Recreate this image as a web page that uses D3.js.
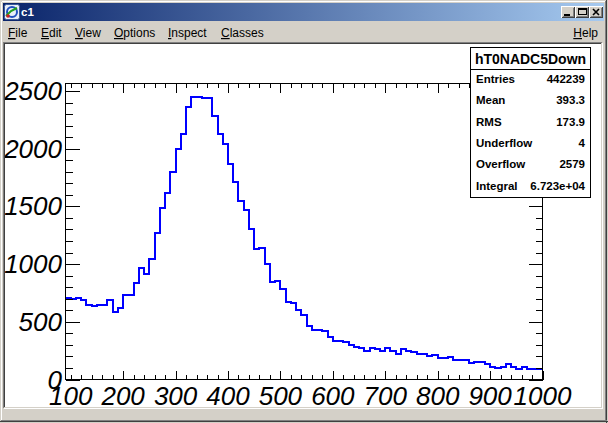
<!DOCTYPE html>
<html><head><meta charset="utf-8">
<script src="https://cdn.jsdelivr.net/npm/d3@7"></script>
<style>
html,body{margin:0;padding:0;overflow:hidden;background:#d4d0c8}
svg{display:block}
</style>
</head><body>
<svg id="c" width="608" height="423"></svg>
<script>
// ---------------- data ----------------
const binLowEdges = [90,100,110,120,130,140,150,160,170,180,190,200,210,220,230,240,250,260,270,280,290,
  300,310,320,330,340,350,360,370,380,390,400,410,420,430,440,450,460,470,480,490,
  500,510,520,530,540,550,560,570,580,590,600,610,620,630,640,650,660,670,680,690,
  700,710,720,730,740,750,760,770,780,790,800,810,820,830,840,850,860,870,880,890,
  900,910,920,930,940,950,960,970,980,990];
const binCounts = [705,696,705,688,644,633,644,644,688,584,616,731,731,835,965,910,1043,1268,1485,1615,1797,
  1994,2130,2361,2448,2448,2439,2439,2283,2130,2043,1867,1711,1549,1468,1303,1127,1138,1003,844,855,
  780,673,665,601,559,461,433,425,416,364,335,335,327,303,280,269,249,269,260,251,
  277,245,223,260,245,237,220,220,202,211,185,185,194,165,165,173,141,150,150,133,
  107,98,107,130,107,89,104,89,89,89];
const xUpperEdge = 1000;
const xTickLabels = [100,200,300,400,500,600,700,800,900,1000];
const xMajorTicks = [200,300,400,500,600,700,800,900,1000];
const xMinorTicks = [100,120,140,160,180,220,240,260,280,320,340,360,380,420,440,460,480,
  520,540,560,580,620,640,660,680,720,740,760,780,820,840,860,880,920,940,960,980];
const yTickLabels = [0,500,1000,1500,2000,2500];
const yMinorTicks = [100,200,300,400,600,700,800,900,1100,1200,1300,1400,1600,1700,1800,1900,
  2100,2200,2300,2400];
const xDomain = [90, 1000];
const yDomain = [0, 2565];
const statsTitle = "hT0NADC5Down";
const statNames = ["Entries","Mean","RMS","Underflow","Overflow","Integral"];
const statValues = ["442239","393.3","173.9","4","2579","6.723e+04"];
const menuItems = ["File","Edit","View","Options","Inspect","Classes"];
const helpItem = "Help";
const windowTitle = "c1";

// ---------------- layout ----------------
const W = 608, H = 423;
const canvasBox = {x:5, y:44, w:596, h:363};
const frame = {l:65.5, r:542.5, t:83.5, b:379.5};
const menuX = [8, 41, 75, 114, 168, 221];
const FONT = "'Liberation Sans', Arial, Helvetica, sans-serif";

const svg = d3.select("#c");

// window chrome
svg.append("rect").attr("x",0).attr("y",0).attr("width",W).attr("height",H).attr("fill","#d4d0c8");
const chrome = svg.append("g").attr("shape-rendering","crispEdges");
chrome.append("line").attr("x1",1.5).attr("y1",1.5).attr("x2",W-2).attr("y2",1.5).attr("stroke","#ffffff");
chrome.append("line").attr("x1",1.5).attr("y1",1.5).attr("x2",1.5).attr("y2",H-2).attr("stroke","#ffffff");
chrome.append("line").attr("x1",W-1.5).attr("y1",0).attr("x2",W-1.5).attr("y2",H).attr("stroke","#404040");
chrome.append("line").attr("x1",W-2.5).attr("y1",1).attr("x2",W-2.5).attr("y2",H-1).attr("stroke","#808080");
chrome.append("line").attr("x1",0).attr("y1",H-1.5).attr("x2",W).attr("y2",H-1.5).attr("stroke","#404040");
chrome.append("line").attr("x1",1).attr("y1",H-2.5).attr("x2",W-1).attr("y2",H-2.5).attr("stroke","#808080");

// title bar gradient
const defs = svg.append("defs");
const grad = defs.append("linearGradient").attr("id","tb").attr("x1","0").attr("x2","1").attr("y1","0").attr("y2","0");
grad.append("stop").attr("offset","0").attr("stop-color","#0a246a");
grad.append("stop").attr("offset","1").attr("stop-color","#a6caf0");
svg.append("rect").attr("x",3).attr("y",3).attr("width",601).attr("height",18).attr("fill","url(#tb)");

// icon
const icon = svg.append("g").attr("transform","translate(4,4)");
icon.append("rect").attr("x",0.5).attr("y",0.5).attr("width",15).attr("height",15).attr("rx",2)
  .attr("fill","#e8eef8").attr("stroke","#3a5a9a");
icon.append("circle").attr("cx",8).attr("cy",8).attr("r",5).attr("fill","none").attr("stroke","#2050c0").attr("stroke-width",2);
icon.append("path").attr("d","M2,12 L7,7 L13,4").attr("fill","none").attr("stroke","#20a020").attr("stroke-width",2);
icon.append("circle").attr("cx",4).attr("cy",12).attr("r",1.8).attr("fill","#d02020");

svg.append("text").attr("x",21).attr("y",16).attr("fill","#fff").attr("font-family",FONT)
  .attr("font-weight","bold").attr("font-size","11.5px").text(windowTitle);

// title buttons
const btnX = [561, 575, 589];
btnX.forEach((bx,i)=>{
  const g = svg.append("g").attr("transform",`translate(${bx},6)`).attr("shape-rendering","crispEdges");
  const w = 14, h = 12;
  g.append("rect").attr("x",0).attr("y",0).attr("width",w).attr("height",h).attr("fill","#d4d0c8");
  g.append("path").attr("d",`M0.5,${h-0.5}V0.5H${w-0.5}`).attr("fill","none").attr("stroke","#ffffff");
  g.append("path").attr("d",`M0.5,${h-0.5}H${w-0.5}V0.5`).attr("fill","none").attr("stroke","#404040");
  g.append("path").attr("d",`M1.5,${h-1.5}H${w-1.5}V1.5`).attr("fill","none").attr("stroke","#808080");
  if(i===0){ g.append("rect").attr("x",3).attr("y",8).attr("width",6).attr("height",2).attr("fill","#000"); }
  if(i===1){ g.append("rect").attr("x",3.5).attr("y",2.5).attr("width",8).attr("height",6).attr("fill","none").attr("stroke","#000");
             g.append("line").attr("x1",3).attr("y1",3.5).attr("x2",12).attr("y2",3.5).attr("stroke","#000"); }
  if(i===2){ g.append("path").attr("d","M4,3L10,9M10,3L4,9").attr("stroke","#000").attr("stroke-width",1.6).attr("shape-rendering","auto"); }
});

// menu bar
const menu = svg.append("g").attr("font-family",FONT).attr("font-size","12px").attr("fill","#000");
menuItems.forEach((m,i)=>{
  const t = menu.append("text").attr("x",menuX[i]).attr("y",37);
  t.append("tspan").attr("text-decoration","underline").text(m[0]);
  t.append("tspan").text(m.slice(1));
});
{
  const t = menu.append("text").attr("x",598).attr("y",37).attr("text-anchor","end");
  t.append("tspan").attr("text-decoration","underline").text(helpItem[0]);
  t.append("tspan").text(helpItem.slice(1));
}

// canvas sunken border
const cb = svg.append("g").attr("shape-rendering","crispEdges");
cb.append("path").attr("d",`M${canvasBox.x-1.5},${canvasBox.y+canvasBox.h+1}V${canvasBox.y-1.5}H${canvasBox.x+canvasBox.w+1}`).attr("fill","none").attr("stroke","#808080");
cb.append("path").attr("d",`M${canvasBox.x-0.5},${canvasBox.y+canvasBox.h}V${canvasBox.y-0.5}H${canvasBox.x+canvasBox.w}`).attr("fill","none").attr("stroke","#404040");
cb.append("path").attr("d",`M${canvasBox.x-1.5},${canvasBox.y+canvasBox.h+1.5}H${canvasBox.x+canvasBox.w+1.5}V${canvasBox.y-1.5}`).attr("fill","none").attr("stroke","#ffffff");

defs.append("clipPath").attr("id","cv").append("rect")
  .attr("x",canvasBox.x).attr("y",canvasBox.y).attr("width",canvasBox.w).attr("height",canvasBox.h);
const cv = svg.append("g").attr("clip-path","url(#cv)");
cv.append("rect").attr("x",canvasBox.x).attr("y",canvasBox.y).attr("width",canvasBox.w).attr("height",canvasBox.h).attr("fill","#fff");

// ---------------- scales ----------------
const x = d3.scaleLinear().domain(xDomain).range([frame.l, frame.r]);
const y = d3.scaleLinear().domain(yDomain).range([frame.b, frame.t]);

// histogram
const pts = binLowEdges.map((e,i)=>[e, binCounts[i]]);
pts.push([xUpperEdge, binCounts[binCounts.length-1]]);
const line = d3.line().x(d=>Math.round(x(d[0]))).y(d=>Math.round(y(d[1]))).curve(d3.curveStepAfter);
cv.append("path").attr("d",line(pts)).attr("fill","none").attr("stroke","#0000ff").attr("stroke-width",2)
  .attr("stroke-linejoin","miter");

// axes
function styleAxis(g){
  g.select(".domain").remove();
  g.selectAll(".tick line").attr("stroke","#000").attr("shape-rendering","crispEdges");
}
const fb = frame.b, ft = frame.t, fl = frame.l, fr = frame.r;
const majX = 9, minX = 4.5, majY = 14, minY = 7;
cv.append("g").attr("transform",`translate(0,${fb})`)
  .call(d3.axisBottom(x).tickValues(xMajorTicks).tickSize(-majX).tickFormat("")).call(styleAxis);
cv.append("g").attr("transform",`translate(0,${fb})`)
  .call(d3.axisBottom(x).tickValues(xMinorTicks).tickSize(-minX).tickFormat("")).call(styleAxis);
cv.append("g").attr("transform",`translate(0,${ft})`)
  .call(d3.axisTop(x).tickValues(xMajorTicks).tickSize(-majX).tickFormat("")).call(styleAxis);
cv.append("g").attr("transform",`translate(0,${ft})`)
  .call(d3.axisTop(x).tickValues(xMinorTicks).tickSize(-minX).tickFormat("")).call(styleAxis);
cv.append("g").attr("transform",`translate(${fl},0)`)
  .call(d3.axisLeft(y).tickValues(yTickLabels).tickSize(-majY).tickFormat("")).call(styleAxis);
cv.append("g").attr("transform",`translate(${fl},0)`)
  .call(d3.axisLeft(y).tickValues(yMinorTicks).tickSize(-minY).tickFormat("")).call(styleAxis);
cv.append("g").attr("transform",`translate(${fr},0)`)
  .call(d3.axisRight(y).tickValues(yTickLabels).tickSize(-majY).tickFormat("")).call(styleAxis);
cv.append("g").attr("transform",`translate(${fr},0)`)
  .call(d3.axisRight(y).tickValues(yMinorTicks).tickSize(-minY).tickFormat("")).call(styleAxis);

// frame
cv.append("rect").attr("x",fl).attr("y",ft).attr("width",fr-fl).attr("height",fb-ft)
  .attr("fill","none").attr("stroke","#000").attr("shape-rendering","crispEdges");

// labels
const lab = cv.append("g").attr("font-family",FONT).attr("font-style","italic").attr("font-size","26px").attr("fill","#000");
lab.selectAll("text.xl").data(xTickLabels).enter().append("text").attr("class","xl")
  .attr("x",d=>x(d)).attr("y",404.5).attr("text-anchor","middle").text(d=>d);
lab.selectAll("text.yl").data(yTickLabels).enter().append("text").attr("class","yl")
  .attr("x",62).attr("y",d=>y(d)+9).attr("text-anchor","end").text(d=>d);

// stats box
const sb = {x:470.5, y:47.5, w:120, h:150, sep:69.5, row:21.35};
const st = cv.append("g");
st.append("rect").attr("x",sb.x).attr("y",sb.y).attr("width",sb.w).attr("height",sb.h)
  .attr("fill","#fff").attr("stroke","#000").attr("shape-rendering","crispEdges");
st.append("line").attr("x1",sb.x).attr("x2",sb.x+sb.w).attr("y1",sb.sep).attr("y2",sb.sep)
  .attr("stroke","#000").attr("shape-rendering","crispEdges");
st.append("text").attr("x",sb.x+sb.w/2).attr("y",64).attr("text-anchor","middle")
  .attr("font-family",FONT).attr("font-weight","bold").attr("font-size","14px").text(statsTitle);
statNames.forEach((n,i)=>{
  const yy = sb.sep + sb.row*(i+0.5) + 2.8;
  st.append("text").attr("x",sb.x+5.5).attr("y",yy).attr("font-family",FONT).attr("font-weight","bold")
    .attr("font-size","11.5px").text(n);
  st.append("text").attr("x",sb.x+sb.w-5.5).attr("y",yy).attr("text-anchor","end").attr("font-family",FONT)
    .attr("font-weight","bold").attr("font-size","11.5px").text(statValues[i]);
});
</script>
</body></html>
